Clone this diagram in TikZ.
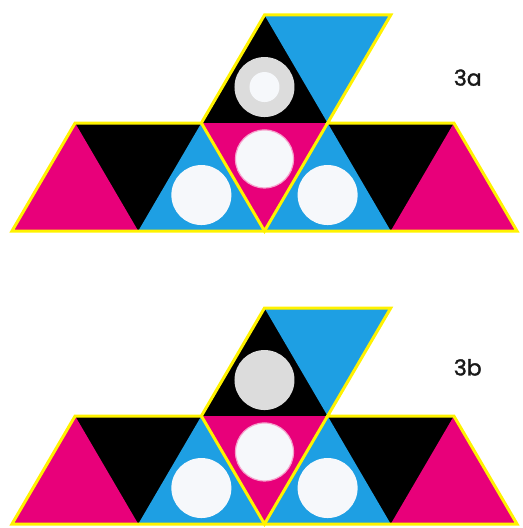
\documentclass[tikz,border=0pt]{standalone}
\usepackage{fontspec}
\setmainfont{Poppins}
\newfontfamily\labelfont{Poppins}[FakeBold=1.6]
\definecolor{figmagenta}{HTML}{E8007A}
\definecolor{figcyan}{HTML}{1E9FE3}
\definecolor{figyellow}{HTML}{FFF200}
\definecolor{figgrey}{HTML}{DCDCDC}
\definecolor{figwhite}{HTML}{F6F8FB}
\definecolor{figpinkring}{HTML}{F5A3CC}
\tikzset{
  outline/.style={figyellow, line width=3pt, line join=miter},
  labeltext/.style={font=\labelfont\fontsize{22}{22}\selectfont, text=black!90},
}

\begin{document}
\begin{tikzpicture}[x=126.25pt, y=108pt]
\useasboundingbox (-0.095,-2.75) rectangle (4.0475,2.1389);
% Net 3a: a row of seven triangles with a rhombus of two on top; the
% discs sit at the incentres of the four coloured faces.
\fill[black] (0,0) -- (0.5,1) -- (1.5,1) -- (2,2) -- (3,2) -- (2.5,1)
  -- (3.5,1) -- (4,0) -- cycle;
\fill[figmagenta] (0,0) -- (1,0) -- (0.5,1) -- cycle;
\fill[figcyan] (1,0) -- (2,0) -- (1.5,1) -- cycle;
\fill[figmagenta] (1.5,1) -- (2.5,1) -- (2,0) -- cycle;
\fill[figcyan] (2,0) -- (3,0) -- (2.5,1) -- cycle;
\fill[figmagenta] (3,0) -- (4,0) -- (3.5,1) -- cycle;
\fill[figcyan] (2,2) -- (3,2) -- (2.5,1) -- cycle;
\fill[figwhite] (1.5,0.333) circle[radius=30pt];
\fill[figwhite] (2.5,0.333) circle[radius=30pt];
\filldraw[fill=figwhite, draw=figpinkring, line width=1.2pt]
  (2,0.667) circle[radius=29pt];
\fill[figgrey] (2,1.333) circle[radius=30pt];
\fill[figwhite] (2,1.333) circle[radius=15pt];
\draw[outline] (0,0) -- (0.5,1) -- (1.5,1) -- (2,2) -- (3,2) -- (2.5,1)
  -- (3.5,1) -- (4,0) -- cycle;
\draw[outline] (1.5,1) -- (2,0) -- (2.5,1);
\node[labeltext] (lblA) at (3.61,1.42) {3a};

% Net 3b: the same net, the top disc now a plain grey one.
\begin{scope}[yshift=-293pt]
\fill[black] (0,0) -- (0.5,1) -- (1.5,1) -- (2,2) -- (3,2) -- (2.5,1)
  -- (3.5,1) -- (4,0) -- cycle;
\fill[figmagenta] (0,0) -- (1,0) -- (0.5,1) -- cycle;
\fill[figcyan] (1,0) -- (2,0) -- (1.5,1) -- cycle;
\fill[figmagenta] (1.5,1) -- (2.5,1) -- (2,0) -- cycle;
\fill[figcyan] (2,0) -- (3,0) -- (2.5,1) -- cycle;
\fill[figmagenta] (3,0) -- (4,0) -- (3.5,1) -- cycle;
\fill[figcyan] (2,2) -- (3,2) -- (2.5,1) -- cycle;
\fill[figwhite] (1.5,0.333) circle[radius=30pt];
\fill[figwhite] (2.5,0.333) circle[radius=30pt];
\filldraw[fill=figwhite, draw=figpinkring, line width=1.2pt]
  (2,0.667) circle[radius=29pt];
\fill[figgrey] (2,1.333) circle[radius=30pt];
\draw[outline] (0,0) -- (0.5,1) -- (1.5,1) -- (2,2) -- (3,2) -- (2.5,1)
  -- (3.5,1) -- (4,0) -- cycle;
\draw[outline] (1.5,1) -- (2,0) -- (2.5,1);
\node[labeltext] (lblB) at (3.61,1.45) {3b};
\end{scope}
\end{tikzpicture}
\end{document}
